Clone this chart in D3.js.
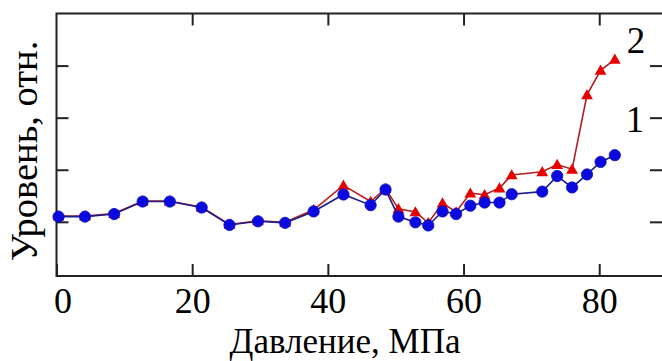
<!DOCTYPE html>
<html>
<head>
<meta charset="utf-8">
<script src="https://cdn.jsdelivr.net/npm/d3@7"></script>
<style>
  html, body { margin: 0; padding: 0; background: #fff; }
  svg { display: block; }
</style>
</head>
<body>
<div id="chart"></div>
<script>
// pressure values (MPa) where both curves were measured
const pressure = [0.3, 4.2, 8.5, 12.7, 16.7, 21.4, 25.5, 29.7, 33.7, 37.9, 42.3, 46.3, 48.5, 50.4,
  52.9, 54.8, 56.9, 58.9, 61.0, 63.1, 65.3, 67.1, 71.6, 73.8, 76.0, 78.2, 80.2, 82.3];

// curve 1 (blue circles)
const level1 = [1.10, 1.10, 1.15, 1.39, 1.39, 1.275, 0.94, 1.01, 0.98, 1.20, 1.525, 1.32, 1.62, 1.10,
  0.99, 0.93, 1.20, 1.15, 1.31, 1.37, 1.37, 1.53, 1.58, 1.88, 1.66, 1.91, 2.15, 2.28];

// curve 2 (red triangles)
const level2 = [1.11, 1.11, 1.16, 1.40, 1.40, 1.28, 0.95, 1.02, 0.99, 1.23, 1.70, 1.39, 1.64, 1.25,
  1.19, 0.98, 1.36, 1.19, 1.55, 1.52, 1.65, 1.90, 1.96, 2.10, 2.01, 3.44, 3.91, 4.12];

const xTicks = [0, 20, 40, 60, 80];
const yTicks = [1, 2, 3, 4];
const seriesNames = ["1", "2"];

const width = 662;
const height = 361;

// plot frame; the right edge sits just outside the picture
const marginTop = 13.5;
const marginLeft = 56.5;
const plotRight = 663;
const plotBottom = 276;
const tickLen = 12;
const font = "'Liberation Serif', 'Times New Roman', serif";

const x = d3.scaleLinear().domain([0, 89.4]).range([marginLeft, plotRight]);
const y = d3.scaleLinear().domain([-0.04, 5.0]).range([plotBottom, marginTop]);

const svg = d3.select("#chart").append("svg")
  .attr("width", width)
  .attr("height", height)
  .attr("viewBox", [0, 0, width, height]);

// axes with inward ticks on all four sides
svg.append("g")
  .attr("transform", `translate(0,${plotBottom})`)
  .call(d3.axisBottom(x).tickValues(xTicks).tickSizeInner(-tickLen).tickSizeOuter(0).tickPadding(11))
  .call(g => g.select(".domain").remove())
  .call(g => g.selectAll("text")
    .attr("font-family", font)
    .attr("font-size", 36)
    .attr("fill", "#000")
    .attr("dx", d => d === 0 ? 6 : 0));

svg.append("g")
  .attr("transform", `translate(0,${marginTop})`)
  .call(d3.axisTop(x).tickValues(xTicks.slice(1)).tickSizeInner(-tickLen).tickSizeOuter(0).tickFormat(""))
  .call(g => g.select(".domain").remove());

svg.append("g")
  .attr("transform", `translate(${marginLeft},0)`)
  .call(d3.axisLeft(y).tickValues(yTicks).tickSizeInner(-tickLen).tickSizeOuter(0).tickFormat(""))
  .call(g => g.select(".domain").remove());

svg.append("g")
  .attr("transform", `translate(${plotRight},0)`)
  .call(d3.axisRight(y).tickValues(yTicks).tickSizeInner(-tickLen - 1).tickSizeOuter(0).tickFormat(""))
  .call(g => g.select(".domain").remove());

svg.selectAll(".tick line")
  .attr("stroke", "#222")
  .attr("stroke-width", 2);

// frame
svg.append("rect")
  .attr("x", marginLeft)
  .attr("y", marginTop)
  .attr("width", plotRight - marginLeft)
  .attr("height", plotBottom - marginTop)
  .attr("fill", "none")
  .attr("stroke", "#222")
  .attr("stroke-width", 2);

const line = d3.line()
  .x(d => x(d[0]))
  .y(d => y(d[1]));

const pts2 = d3.zip(pressure, level2);
const pts1 = d3.zip(pressure, level1);

// curve 2 underneath, curve 1 on top
svg.append("path")
  .datum(pts2)
  .attr("fill", "none")
  .attr("stroke", "#b41e1e")
  .attr("stroke-width", 1.6)
  .attr("d", line);

svg.append("g")
  .selectAll("path")
  .data(pts2)
  .join("path")
  .attr("transform", d => `translate(${x(d[0])},${y(d[1]) + 1})`)
  .attr("d", d3.symbol(d3.symbolTriangle, 60))
  .attr("fill", "#e60000");

svg.append("path")
  .datum(pts1)
  .attr("fill", "none")
  .attr("stroke", "#1c1c8c")
  .attr("stroke-width", 1.6)
  .attr("d", line);

svg.append("g")
  .selectAll("path")
  .data(pts1)
  .join("path")
  .attr("transform", d => `translate(${x(d[0])},${y(d[1])})`)
  .attr("d", d3.symbol(d3.symbolCircle, 100))
  .attr("fill", "#0a0ae0")
  .attr("stroke", "#0a0ab4")
  .attr("stroke-width", 0.8);

// curve numbers at the right end
svg.append("text")
  .text(seriesNames[1])
  .attr("x", 636)
  .attr("y", 53)
  .attr("text-anchor", "middle")
  .attr("font-family", font)
  .attr("font-size", 37);

svg.append("text")
  .text(seriesNames[0])
  .attr("x", 635)
  .attr("y", 132)
  .attr("text-anchor", "middle")
  .attr("font-family", font)
  .attr("font-size", 37);

// axis titles
svg.append("text")
  .text("Давление, МПа")
  .attr("x", 345)
  .attr("y", 353)
  .attr("text-anchor", "middle")
  .attr("font-family", font)
  .attr("font-size", 35);

svg.append("text")
  .text("Уровень, отн.")
  .attr("transform", `translate(37,151) rotate(-90)`)
  .attr("text-anchor", "middle")
  .attr("font-family", font)
  .attr("font-size", 38.5);
</script>
</body>
</html>
